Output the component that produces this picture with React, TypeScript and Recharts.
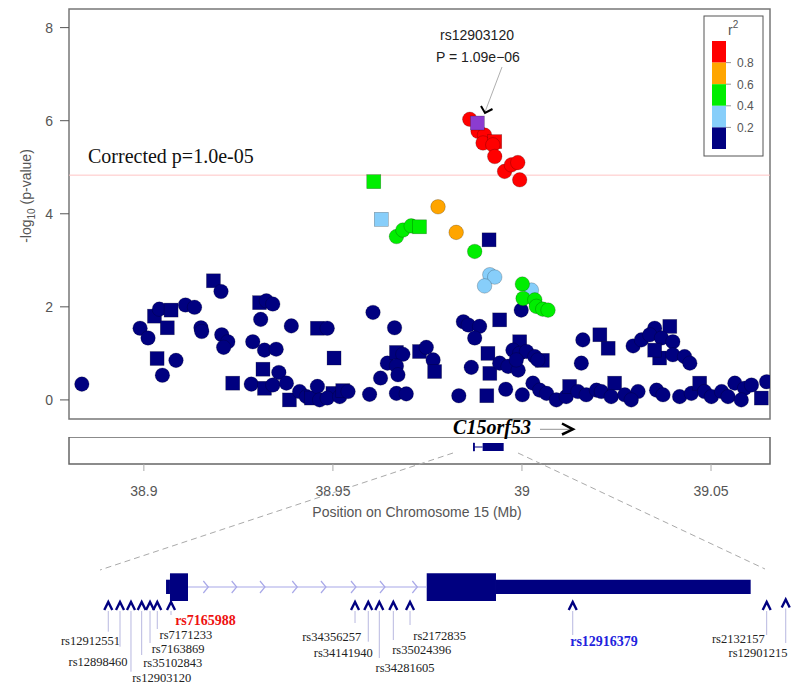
import React from "react";
import { ScatterChart, Scatter, XAxis, YAxis, ReferenceLine, ReferenceArea } from "recharts";

type Pt = [number, number, "c" | "s"];

const SANS = "'Liberation Sans', Arial, sans-serif";
const SERIF = "'Liberation Serif', 'Times New Roman', serif";
const AXIS_GREY = "#555";

// chromosome 15 window (Mb) and -log10(p) range
const xDomain: [number, number] = [38.8802, 39.0656];
const yDomain: [number, number] = [-0.41, 8.4];
const yTicks = [0, 2, 4, 6, 8];
const xTicks = [38.9, 38.95, 39, 39.05];
const threshold = 4.83;

// r2 < 0.2
const navyPts: Pt[] = [
  [38.8836, 0.34, "c"], [38.9184, 2.56, "s"], [38.9204, 2.33, "c"], [38.9028, 1.8, "s"],
  [38.9041, 1.95, "c"], [38.9072, 1.93, "s"], [38.911, 2.04, "c"], [38.9134, 1.99, "c"],
  [38.899, 1.54, "c"], [38.9011, 1.33, "c"], [38.9062, 1.55, "s"], [38.9151, 1.55, "c"],
  [38.9153, 1.47, "c"], [38.9206, 1.4, "c"], [38.9222, 1.25, "c"], [38.9211, 1.13, "c"],
  [38.9035, 0.89, "s"], [38.9085, 0.85, "c"], [38.9049, 0.53, "c"], [38.9235, 0.36, "s"],
  [38.9288, 1.25, "c"], [38.9284, 0.34, "c"], [38.9306, 2.09, "s"], [38.9324, 2.13, "c"],
  [38.9341, 2.06, "c"], [38.9309, 1.73, "c"], [38.939, 1.59, "c"], [38.9459, 1.54, "s"],
  [38.9485, 1.54, "c"], [38.9319, 1.07, "c"], [38.935, 1.09, "c"], [38.9503, 0.9, "s"],
  [38.9606, 1.88, "c"], [38.9663, 1.55, "c"], [38.9315, 0.66, "s"], [38.9357, 0.59, "c"],
  [38.9319, 0.25, "s"], [38.9341, 0.32, "c"], [38.9377, 0.36, "c"], [38.9385, 0.0, "s"],
  [38.9412, 0.18, "c"], [38.943, 0.07, "c"], [38.9443, 0.04, "s"], [38.9459, 0.29, "c"],
  [38.9465, 0.0, "c"], [38.95, 0.14, "s"], [38.9485, 0.04, "c"], [38.9518, 0.07, "c"],
  [38.9526, 0.2, "s"], [38.954, 0.18, "c"], [38.9597, 0.12, "c"], [38.9626, 0.47, "c"],
  [38.9644, 0.79, "c"], [38.9668, 1.02, "s"], [38.9685, 0.98, "c"], [38.9668, 0.73, "c"],
  [38.9672, 0.54, "c"], [38.9668, 0.14, "c"], [38.9694, 0.13, "c"], [38.9729, 1.04, "s"],
  [38.9747, 1.13, "c"], [38.9765, 0.86, "c"], [38.9769, 0.61, "s"], [38.9998, 1.93, "c"],
  [38.9941, 1.72, "s"], [38.9845, 1.68, "c"], [38.9858, 1.61, "c"], [38.9888, 1.58, "c"],
  [38.9875, 1.33, "c"], [38.9866, 0.7, "c"], [38.991, 1.0, "s"], [38.9915, 0.57, "s"],
  [38.9994, 1.25, "s"], [38.9976, 1.07, "c"], [38.9994, 1.0, "c"], [39.0012, 1.04, "c"],
  [39.0034, 0.93, "c"], [39.0054, 0.85, "s"], [38.9941, 0.79, "c"], [38.9963, 0.72, "c"],
  [38.999, 0.64, "c"], [38.9985, 0.86, "c"], [39.0042, 0.86, "c"], [38.9833, 0.09, "c"],
  [38.9907, 0.09, "s"], [38.9957, 0.23, "c"], [39.0001, 0.11, "c"], [39.0029, 0.36, "c"],
  [39.0047, 0.21, "c"], [39.0065, 0.14, "c"], [39.0091, 0.0, "c"], [39.0117, 0.07, "c"],
  [39.0126, 0.29, "s"], [39.0148, 0.18, "c"], [39.017, 0.11, "c"], [39.0197, 0.21, "c"],
  [39.0161, 1.29, "c"], [39.0157, 0.79, "c"], [38.9913, 3.44, "s"],
  [39.0206, 1.4, "s"], [39.0228, 1.11, "s"], [39.0294, 1.16, "c"], [39.0316, 1.29, "c"],
  [39.0351, 1.54, "c"], [39.0391, 1.58, "s"], [39.0338, 1.4, "c"], [39.0369, 1.33, "c"],
  [39.0399, 1.25, "c"], [39.0364, 0.9, "s"], [39.0399, 0.97, "c"], [39.043, 0.93, "c"],
  [39.0444, 0.79, "c"], [39.0351, 1.07, "s"], [39.021, 0.18, "c"], [39.0245, 0.36, "s"],
  [39.0236, 0.07, "c"], [39.0272, 0.11, "c"], [39.0307, 0.18, "c"], [39.0289, 0.0, "c"],
  [39.0356, 0.21, "c"], [39.0373, 0.11, "c"], [39.0417, 0.07, "c"], [39.0448, 0.14, "c"],
  [39.047, 0.36, "s"], [39.0483, 0.18, "c"], [39.0501, 0.07, "c"], [39.0528, 0.18, "c"],
  [39.0545, 0.07, "c"], [39.0563, 0.36, "c"], [39.0589, 0.25, "c"], [39.058, 0.0, "c"],
  [39.0607, 0.32, "c"], [39.0633, 0.04, "s"], [39.0647, 0.39, "c"],
];
// 0.2 - 0.4
const lightBluePts: Pt[] = [
  [38.9628, 3.88, "s"], [38.9915, 2.69, "c"], [38.9928, 2.64, "c"], [38.9901, 2.45, "c"], [39.0025, 2.36, "c"],
];
// 0.4 - 0.6
const greenPts: Pt[] = [
  [38.9608, 4.69, "s"], [38.9668, 3.51, "c"], [38.9685, 3.65, "c"], [38.9707, 3.74, "c"],
  [38.9729, 3.72, "s"], [38.9875, 3.19, "c"], [39.0001, 2.49, "c"], [39.0003, 2.18, "c"],
  [39.0034, 2.15, "c"], [39.0038, 2.01, "c"], [39.0055, 1.95, "c"], [39.0069, 1.93, "c"],
];
// 0.6 - 0.8
const orangePts: Pt[] = [[38.9778, 4.15, "c"], [38.9826, 3.6, "c"]];
// 0.8 - 1
const redPts: Pt[] = [
  [38.9862, 6.03, "c"], [38.9884, 5.77, "c"], [38.9901, 5.69, "c"], [38.9897, 5.52, "c"],
  [38.9928, 5.55, "s"], [38.9923, 5.48, "c"], [38.9928, 5.23, "c"], [38.9954, 4.91, "c"],
  [38.9972, 5.05, "c"], [38.9989, 5.1, "c"], [38.9994, 4.73, "c"],
];
// rs12903120, P = 1.09e-06
const leadPts: Pt[] = [[38.9882, 5.95, "s"]];

const groups = [
  { key: "navy", color: "#000080", pts: navyPts },
  { key: "lightblue", color: "#87CEFA", pts: lightBluePts },
  { key: "green", color: "#00EE00", pts: greenPts },
  { key: "orange", color: "#FFA500", pts: orangePts },
  { key: "red", color: "#FF0000", pts: redPts },
  { key: "lead", color: "#8B3CD0", pts: leadPts },
];

const legendColors = ["#FF0000", "#FFA500", "#00EE00", "#87CEFA", "#000080"];
const legendLabels = ["0.8", "0.6", "0.4", "0.2"];

// C15orf53 in the track (Mb)
const geneStart = 38.9872;
const geneSmallExonEnd = 38.9874;
const geneBigExon: [number, number] = [38.9896, 38.99516];

// zoomed gene schematic, in schematic units (0-100)
const exons: [number, number, "utr" | "cds"][] = [
  [9.57, 10.14, "utr"], [10.14, 12.75, "cds"], [47.35, 57.39, "cds"], [57.39, 94.3, "utr"],
];
const intron: [number, number] = [12.75, 47.35];
const intronChevrons = [15.7, 19.81, 23.91, 28.59, 32.75, 37.1, 41.3, 45.99];
const snpIds = [
  "rs12912551", "rs12898460", "rs12903120", "rs35102843", "rs7163869", "rs7171233", "rs7165988",
  "rs34356257", "rs34141940", "rs34281605", "rs35024396", "rs2172835", "rs12916379",
  "rs2132157", "rs12901215",
];
const snpPos = [1.2, 2.9, 4.49, 6.04, 7.25, 8.3, 10.29, 36.96, 38.88, 40.48, 42.51, 44.93, 68.51, 96.62, 99.38];
const snpColor: Record<string, string> = { rs7165988: "#EE1111", rs12916379: "#2222DD" };
// label offset dx (px), label row depth, line end depth
const snpLabelLayout: [number, number, number][] = [
  [-17.8, 100, 91.7], [-22, 121.7, 106.7], [30.7, 137, 131.7], [31, 122.5, 115], [28, 108.5, 103],
  [28.7, 94.5, 89], [34.5, 80, 75], [-23.3, 96.7, 83], [-25, 112.7, 101.7], [25.7, 127.3, 118],
  [28.4, 109.3, 100], [29.7, 95.7, 85], [31.3, 101.7, 95], [-28.4, 98.3, 95], [-27.7, 112.7, 103],
];

const GENE_MID = 47;
const CARET_DEPTH = 66;

const markerShape = (color: string) => (props: any) => {
  const { cx, cy, payload } = props;
  const edge = "rgba(0,0,0,0.35)";
  if (payload.s === "s") {
    return <rect x={cx - 7} y={cy - 7} width={14} height={14} fill={color} stroke={edge} strokeWidth={0.6} />;
  }
  return <circle cx={cx} cy={cy} r={7.3} fill={color} stroke={edge} strokeWidth={0.6} />;
};

const emptyShape = () => <g />;

const chevronShape = (props: any) => {
  const { cx, cy } = props;
  return (
    <polyline points={`${cx - 5},${cy - 6} ${cx},${cy} ${cx - 5},${cy + 6}`} fill="none" stroke="#A8A8E8" strokeWidth={1.2} />
  );
};

const snpShape = (props: any) => {
  const { cx, cy, payload } = props;
  const [dx, labelDepth, lineEnd] = payload.layout;
  const hl = snpColor[payload.id];
  const up = payload.depth;
  return (
    <g>
      <line x1={cx} y1={cy + 5} x2={cx} y2={cy + (lineEnd - up)} stroke="#B8B8E0" strokeWidth={1} />
      <polyline points={`${cx - 4},${cy + 4} ${cx},${cy - 4} ${cx + 4},${cy + 4}`} fill="none" stroke="#000080" strokeWidth={2.4} />
      <text
        x={cx + dx}
        y={cy + (labelDepth - up) + 4.5}
        textAnchor="middle"
        fontFamily={SERIF}
        fontSize={hl ? 14 : 12.5}
        fontWeight={hl ? "bold" : "normal"}
        fill={hl ?? "#222"}
      >
        {payload.id}
      </text>
    </g>
  );
};

export default function App() {
  const snpRows = snpIds.map((id, i) => {
    const depth = id === "rs12901215" ? CARET_DEPTH - 2.5 : CARET_DEPTH;
    return { id, x: snpPos[i], y: depth, depth, layout: snpLabelLayout[i] };
  });
  const chevronRows = intronChevrons.map((x) => ({ x, y: GENE_MID }));
  const geneRows = [
    { x: geneStart, y: 17 },
    { x: geneBigExon[1], y: 17 },
  ];

  return (
    <div style={{ position: "absolute", left: 0, top: 0, width: 800, height: 690, background: "#fff" }}>
      {/* association plot */}
      <div style={{ position: "absolute", left: 0, top: 0 }}>
        <ScatterChart width={800} height={430} margin={{ top: 9, right: 30, bottom: 11, left: 29 }}>
          <XAxis type="number" dataKey="x" domain={xDomain} hide allowDataOverflow />
          <YAxis
            type="number"
            dataKey="y"
            domain={yDomain}
            ticks={yTicks}
            width={40}
            axisLine={false}
            tickSize={9}
            tickMargin={7}
            tickLine={{ stroke: AXIS_GREY }}
            tick={{ fill: AXIS_GREY, fontSize: 14, fontFamily: SANS }}
            allowDataOverflow
          />
          <ReferenceLine y={threshold} stroke="#FFC4C4" strokeWidth={1} />
          {groups.map((g) => (
            <Scatter
              key={g.key}
              data={g.pts.map(([x, y, s]) => ({ x, y, s }))}
              fill={g.color}
              shape={markerShape(g.color)}
              isAnimationActive={false}
            />
          ))}
          <ReferenceArea x1={xDomain[0]} x2={xDomain[1]} y1={yDomain[0]} y2={yDomain[1]} fill="none" stroke="#777" strokeWidth={1.5} ifOverflow="visible" />
        </ScatterChart>
      </div>

      {/* gene track with position axis */}
      <div style={{ position: "absolute", left: 0, top: 437 }}>
        <ScatterChart width={800} height={63} margin={{ top: 0, right: 30, bottom: 0, left: 69 }}>
          <XAxis
            type="number"
            dataKey="x"
            domain={xDomain}
            ticks={xTicks}
            height={36}
            axisLine={false}
            tickSize={7}
            tickMargin={15}
            tickLine={{ stroke: "#AAA" }}
            tick={{ fill: AXIS_GREY, fontSize: 14, fontFamily: SANS }}
          />
          <YAxis type="number" dataKey="y" domain={[0, 27]} hide />
          <Scatter data={geneRows} shape={emptyShape} isAnimationActive={false} />
          <ReferenceArea x1={xDomain[0]} x2={xDomain[1]} y1={0} y2={27} fill="none" stroke="#666" strokeWidth={1.5} ifOverflow="visible" />
          <ReferenceLine segment={[{ x: geneStart, y: 17 }, { x: geneBigExon[0], y: 17 }]} stroke="#000080" ifOverflow="visible" />
          <ReferenceArea x1={geneStart} x2={geneSmallExonEnd} y1={13} y2={21} fill="#000080" fillOpacity={1} stroke="#000080" ifOverflow="visible" />
          <ReferenceArea x1={geneBigExon[0]} x2={geneBigExon[1]} y1={13} y2={21} fill="#000080" fillOpacity={1} ifOverflow="visible" />
        </ScatterChart>
      </div>

      {/* zoomed gene schematic */}
      <div style={{ position: "absolute", left: 0, top: 540 }}>
        <ScatterChart width={800} height={150} margin={{ top: 0, right: 10, bottom: 0, left: 100 }}>
          <XAxis type="number" dataKey="x" domain={[0, 100]} hide />
          <YAxis type="number" dataKey="y" domain={[0, 150]} reversed hide />
          <ReferenceLine segment={[{ x: intron[0], y: GENE_MID }, { x: intron[1], y: GENE_MID }]} stroke="#A8A8E8" strokeWidth={1.2} />
          {exons.map(([a, b, kind], i) => (
            <ReferenceArea
              key={i}
              x1={a}
              x2={b}
              y1={kind === "cds" ? GENE_MID - 13.7 : GENE_MID - 7.3}
              y2={kind === "cds" ? GENE_MID + 14 : GENE_MID + 7}
              fill="#000080"
              fillOpacity={1}
            />
          ))}
          <Scatter data={chevronRows} shape={chevronShape} isAnimationActive={false} />
          <Scatter data={snpRows} shape={snpShape} isAnimationActive={false} />
        </ScatterChart>
      </div>

      {/* annotations */}
      <svg width={800} height={690} style={{ position: "absolute", left: 0, top: 0, pointerEvents: "none" }}>
        <text transform="rotate(-90, 31, 196)" x={31} y={196} textAnchor="middle" fontFamily={SANS} fontSize={14} fill={AXIS_GREY}>
          -log
          <tspan fontSize={10} dy={4}>10</tspan>
          <tspan dy={-4}> (p-value)</tspan>
        </text>
        <text x={88} y={163} fontFamily={SERIF} fontSize={20} fill="#111">Corrected p=1.0e-05</text>

        <text x={477} y={40} textAnchor="middle" fontFamily={SANS} fontSize={14} fill="#222">rs12903120</text>
        <text x={478} y={62} textAnchor="middle" fontFamily={SANS} fontSize={14} fill="#222">P = 1.09e−06</text>
        <line x1={502} y1={67} x2={485} y2={112} stroke="#999" strokeWidth={0.8} />
        <polyline points="481,106 485,113 492.5,109" fill="none" stroke="#000" strokeWidth={2} />

        {/* r2 legend */}
        <rect x={704} y={16} width={59} height={140} fill="#fff" stroke={AXIS_GREY} strokeWidth={1} />
        <text x={728} y={35} fontFamily={SANS} fontSize={14} fill={AXIS_GREY}>
          r<tspan fontSize={10} dy={-7}>2</tspan>
        </text>
        {legendColors.map((c, i) => (
          <rect key={c} x={712} y={41 + i * 21.6} width={14} height={21.6} fill={c} />
        ))}
        {legendLabels.map((l, i) => (
          <g key={l}>
            <line x1={726} x2={731} y1={62.6 + i * 21.6} y2={62.6 + i * 21.6} stroke="#999" />
            <text x={737} y={67 + i * 21.6} fontFamily={SANS} fontSize={12} fill={AXIS_GREY}>{l}</text>
          </g>
        ))}

        {/* gene name */}
        <text x={492} y={434} textAnchor="middle" fontFamily={SERIF} fontSize={20} fontWeight="bold" fontStyle="italic" fill="#000">C15orf53</text>
        <line x1={540} x2={571} y1={429.3} y2={429.3} stroke="#777" strokeWidth={0.8} />
        <polyline points="562,423.5 573,429.3 562,434.5" fill="none" stroke="#000" strokeWidth={2.5} />

        <text x={417} y={517} textAnchor="middle" fontFamily={SANS} fontSize={14} fill={AXIS_GREY}>Position on Chromosome 15 (Mb)</text>

        <line x1={453} y1={453} x2={100} y2={570} stroke="#AAA" strokeWidth={1} strokeDasharray="6,4" />
        <line x1={518} y1={453} x2={765} y2={569} stroke="#AAA" strokeWidth={1} strokeDasharray="6,4" />
      </svg>
    </div>
  );
}
